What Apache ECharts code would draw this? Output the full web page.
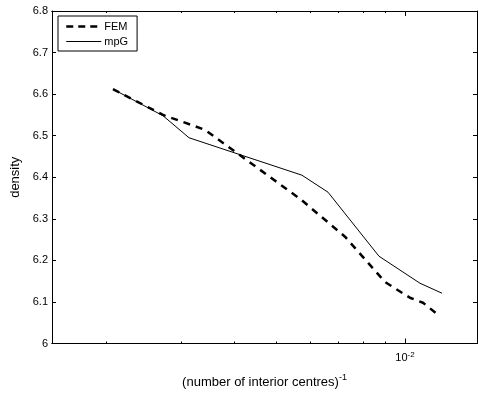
<!DOCTYPE html>
<html>
<head>
<meta charset="UTF-8">
<title>density</title>
<script type="text/javascript" src="https://cdn.jsdelivr.net/npm/echarts@6/dist/echarts.min.js"></script>
</head>
<body style="margin:0">
    <div id="main" style="width: 478px;height:394px;"></div>
    <script type="text/javascript">
        // (number of interior centres)^-1 and density
        var femX = [0.002078, 0.002720, 0.003410, 0.005687, 0.007242, 0.008981, 0.01027, 0.01102, 0.01188];
        var femY = [6.612, 6.550, 6.514, 6.348, 6.257, 6.148, 6.110, 6.098, 6.071];
        var mpgX = [0.002078, 0.002720, 0.003129, 0.005742, 0.006609, 0.008694, 0.01084, 0.01220];
        var mpgY = [6.612, 6.548, 6.495, 6.405, 6.364, 6.210, 6.145, 6.121];
        var minorTicks = [0.002, 0.003, 0.004, 0.005, 0.006, 0.007, 0.008, 0.009];
        var majorTicks = [0.01];
        var yTicks = [6, 6.1, 6.2, 6.3, 6.4, 6.5, 6.6, 6.7, 6.8];

        var lg = Math.log10;
        var xMin = -2.8248, xMax = -1.8318;
        var font = 'Liberation Sans, Arial, sans-serif';

        function pairs(xs, ys) {
            return xs.map(function (x, i) { return [lg(x), ys[i]]; });
        }

        function xAx(pos, ticks, len, withLabel) {
            return {
                type: 'value', position: pos, min: xMin, max: xMax,
                axisLine: { show: true, onZero: false, lineStyle: { color: '#000', width: 1 } },
                axisTick: { show: true, inside: true, length: len, customValues: ticks.map(lg), lineStyle: { color: '#000' } },
                axisLabel: withLabel ? {
                    show: true, customValues: ticks.map(lg), margin: 7,
                    formatter: function (v) { return '{b|10}{s|' + Math.round(v) + '}'; },
                    rich: {
                        b: { fontSize: 11, fontFamily: font, color: '#000' },
                        s: { fontSize: 8, fontFamily: font, color: '#000', padding: [0, 0, 7, 0] }
                    }
                } : { show: false },
                splitLine: { show: false }
            };
        }

        var xAxes = [
            xAx('bottom', minorTicks, 2, false),
            xAx('bottom', majorTicks, 5, true),
            xAx('top', minorTicks, 2, false),
            xAx('top', majorTicks, 5, false)
        ];
        xAxes[0].name = '{t|(number of interior centres)}{s|-1}';
        xAxes[0].nameLocation = 'middle';
        xAxes[0].nameGap = 30;
        xAxes[0].nameTextStyle = {
            rich: {
                t: { fontSize: 13, fontFamily: font, color: '#000' },
                s: { fontSize: 9, fontFamily: font, color: '#000', padding: [0, 0, 9, 0] }
            }
        };

        function yAx(pos, withLabel) {
            return {
                type: 'value', position: pos, min: yTicks[0], max: yTicks[yTicks.length - 1], interval: 0.1,
                axisLine: { show: true, lineStyle: { color: '#000', width: 1 } },
                axisTick: { show: true, inside: true, length: 4, lineStyle: { color: '#000' } },
                axisLabel: {
                    show: withLabel, margin: 4, color: '#000', fontSize: 11, fontFamily: font,
                    formatter: function (v) { return String(Math.round(v * 10) / 10); }
                },
                splitLine: { show: false }
            };
        }
        var yAxes = [yAx('left', true), yAx('right', false)];
        yAxes[0].name = 'density';
        yAxes[0].nameLocation = 'middle';
        yAxes[0].nameGap = 30;
        yAxes[0].nameTextStyle = { fontSize: 13, fontFamily: font, color: '#000' };

        var myChart = echarts.init(document.getElementById('main'));
        var option = {
            animation: false,
            backgroundColor: '#fff',
            grid: { left: 52, right: 1, top: 11, bottom: 46 },
            legend: {
                orient: 'vertical', left: 58, top: 16,
                data: [
                    { name: 'FEM', lineStyle: { width: 2.5, type: [7, 5] } },
                    { name: 'mpG', lineStyle: { width: 1 } }
                ],
                itemWidth: 35, itemHeight: 10, itemGap: 4,
                padding: [5, 9, 4, 7],
                borderColor: '#000', borderWidth: 1, backgroundColor: '#fff',
                itemStyle: { opacity: 0 },
                textStyle: { fontSize: 11, fontFamily: font, color: '#000', padding: [0, 0, 0, -2] }
            },
            xAxis: xAxes,
            yAxis: yAxes,
            series: [{
                name: 'FEM', type: 'line', xAxisIndex: 0, yAxisIndex: 0,
                symbol: 'none', data: pairs(femX, femY),
                lineStyle: { color: '#000', width: 2.5, type: [7, 6] },
                itemStyle: { color: '#000' }
            }, {
                name: 'mpG', type: 'line', xAxisIndex: 0, yAxisIndex: 0,
                symbol: 'none', data: pairs(mpgX, mpgY),
                lineStyle: { color: '#000', width: 1 },
                itemStyle: { color: '#000' }
            }]
        };
        myChart.setOption(option);
    </script>
</body>
</html>
